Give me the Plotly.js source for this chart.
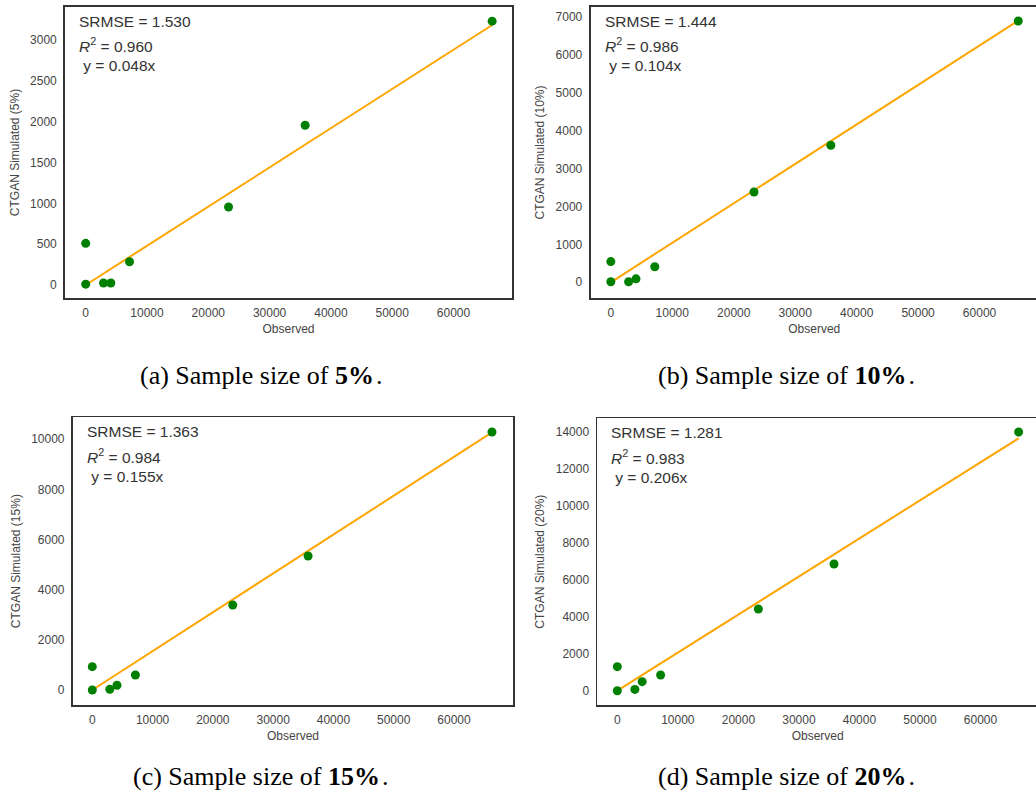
<!DOCTYPE html>
<html>
<head>
<meta charset="utf-8">
<script src="https://cdn.plot.ly/plotly-3.0.1.min.js"></script>
<style>
  html, body { margin: 0; padding: 0; background: #fff; overflow: hidden; }
  #chart { width: 1040px; height: 798px; }
</style>
</head>
<body>
<div id="chart"></div>
<script>
// Observed counts shared by every panel
const observed = [0, 0, 2900, 4100, 7150, 23300, 35800, 66300];

// CTGAN simulated counts per sample size
const sim5  = [10, 510, 25, 25, 285, 955, 1955, 3230];
const sim10 = [15, 545, 15, 90, 410, 2380, 3610, 6885];
const sim15 = [0, 930, 30, 190, 600, 3390, 5345, 10290];
const sim20 = [0, 1300, 70, 490, 850, 4420, 6855, 14000];

// Fit statistics per sample size
const sampleLabels = ['5%', '10%', '15%', '20%'];
const panelLetters = ['a', 'b', 'c', 'd'];
const slopes = [0.048, 0.104, 0.155, 0.206];
const srmse = ['1.530', '1.444', '1.363', '1.281'];
const r2 = ['0.960', '0.986', '0.984', '0.983'];

const W = 1040, H = 798;
const simulated = [sim5, sim10, sim15, sim20];

// Panel placement in pixels: [left, right, top, bottom]
const boxes = [
  [65, 512, 7, 298],
  [590.5, 1038, 7, 298],
  [72.7, 513.3, 417.3, 705],
  [597.3, 1038, 418.3, 705]
];
const xRanges = [[-3377, 69540], [-3306, 69510], [-3251, 69840], [-3309, 69500]];
const yRanges = [[-159, 3403], [-414, 7254], [-598, 10877], [-774, 14740]];
const yDticks = [500, 1000, 2000, 2000];
const captionPos = [[261, 375], [786, 375], [261, 776], [786, 776]];

const tickFont = { family: 'Liberation Sans, Arial, sans-serif', size: 12, color: '#444' };
const statFont = { family: 'Liberation Sans, Arial, sans-serif', size: 15.5, color: '#333' };
const frameColor = '#333';

const traces = [];
const layout = {
  width: W, height: H,
  margin: { l: 0, r: 0, t: 0, b: 0 },
  paper_bgcolor: '#fff',
  plot_bgcolor: '#fff',
  showlegend: false,
  annotations: []
};

const px = x => x / W;
const py = y => 1 - y / H;

for (let i = 0; i < 4; i++) {
  const n = i === 0 ? '' : String(i + 1);
  const xa = 'x' + n, ya = 'y' + n;
  const [l, r, t, b] = boxes[i];
  const xMax = Math.max(...observed);

  traces.push({
    type: 'scatter', mode: 'lines',
    x: [0, xMax], y: [0, slopes[i] * xMax],
    xaxis: xa, yaxis: ya,
    line: { color: '#FFA500', width: 2 },
    hoverinfo: 'skip'
  });
  traces.push({
    type: 'scatter', mode: 'markers',
    x: observed, y: simulated[i],
    xaxis: xa, yaxis: ya,
    marker: { color: 'green', size: 9, line: { width: 0 } }
  });

  layout['xaxis' + n] = {
    domain: [px(l), px(r)], anchor: ya,
    range: xRanges[i], dtick: 10000, tick0: 0, tickformat: 'd',
    showgrid: false, zeroline: false, ticks: '',
    showline: true, mirror: true, linecolor: frameColor, linewidth: 1.8,
    tickfont: tickFont, ticklabelstandoff: 3,
    title: { text: 'Observed', font: tickFont, standoff: 5 }
  };
  layout['yaxis' + n] = {
    domain: [py(b), py(t)], anchor: xa,
    range: yRanges[i], dtick: yDticks[i], tick0: 0, tickformat: 'd',
    showgrid: false, zeroline: false, ticks: '',
    showline: true, mirror: true, linecolor: frameColor, linewidth: 1.8,
    tickfont: tickFont, ticklabelstandoff: 4,
    title: { text: 'CTGAN Simulated (' + sampleLabels[i] + ')', font: tickFont, standoff: 8 }
  };

  const statLines = [
    ['SRMSE = ' + srmse[i], 14.5],
    ['<i>R</i><sup>2</sup> = ' + r2[i], 38.5],
    [' y = ' + slopes[i].toFixed(3) + 'x', 59]
  ];
  statLines.forEach(([text, dy]) => {
    layout.annotations.push({
      xref: 'paper', yref: 'paper',
      x: px(l + 12), y: py(t + dy),
      xanchor: 'left', yanchor: 'middle',
      text: text, showarrow: false, font: statFont
    });
  });

  layout.annotations.push({
    xref: 'paper', yref: 'paper',
    x: px(captionPos[i][0]), y: py(captionPos[i][1]),
    xanchor: 'center', yanchor: 'middle',
    text: '(' + panelLetters[i] + ') Sample size of <b>' + sampleLabels[i] + '</b>\u200a.',
    showarrow: false,
    font: { family: 'Liberation Serif, Times New Roman, serif', size: 26, color: '#000' }
  });
}

Plotly.newPlot('chart', traces, layout, { staticPlot: true, displayModeBar: false });
</script>
</body>
</html>
